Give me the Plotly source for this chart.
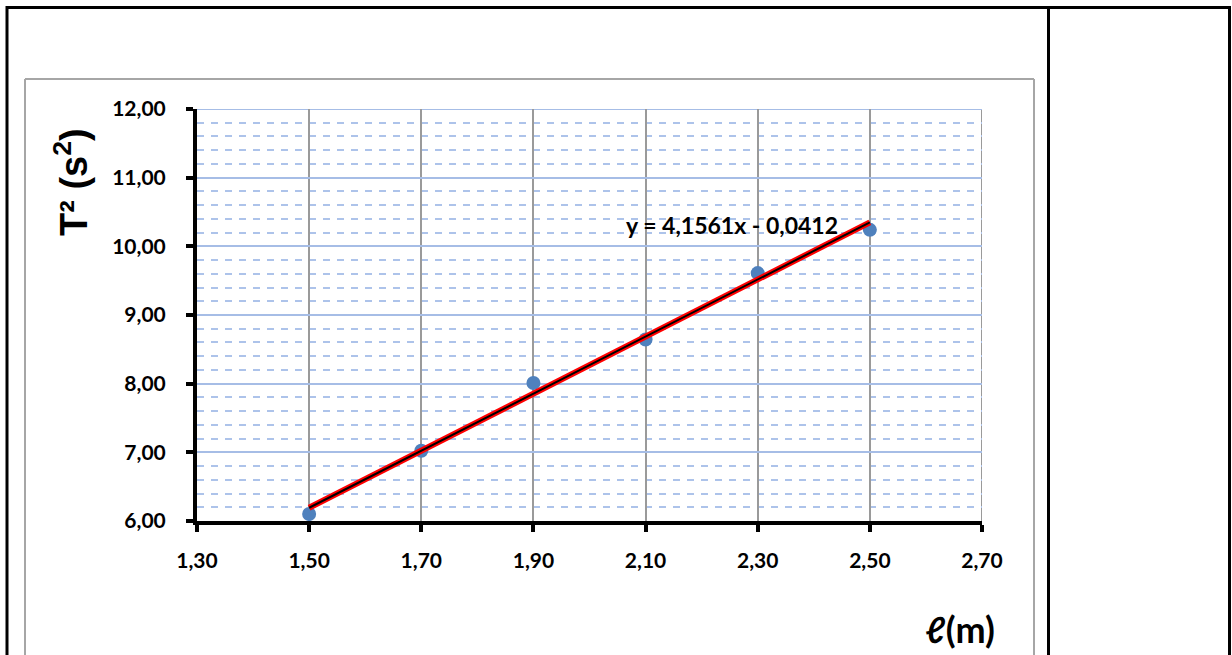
import numpy as np
import plotly.graph_objects as go

# Data
length_m = [1.50, 1.70, 1.90, 2.10, 2.30, 2.50]
period_sq = [6.1009, 7.0225, 8.0089, 8.6436, 9.61, 10.24]
x_ticks = [1.30, 1.50, 1.70, 1.90, 2.10, 2.30, 2.50, 2.70]
y_ticks = [6, 7, 8, 9, 10, 11, 12]
equation_text = "y = 4,1561x - 0,0412"
y_title = "T² (s<sup>2</sup>)"
x_title = "ℓ(m)"

W, H = 1232, 655

def px(x):
    return x / W

def py(y):
    return 1 - y / H

slope, intercept = np.polyfit(length_m, period_sq, 1)
fit_x = [min(length_m), max(length_m)]
fit_y = [slope * v + intercept for v in fit_x]

fig = go.Figure()
fig.add_trace(go.Scatter(
    x=length_m, y=period_sq, mode="markers",
    marker=dict(color="#4f81bd", size=14, line=dict(width=0)),
    hoverinfo="skip", showlegend=False,
))
fig.add_trace(go.Scatter(
    x=fit_x, y=fit_y, mode="lines",
    line=dict(color="#ff0000", width=6), showlegend=False, hoverinfo="skip",
))
fig.add_trace(go.Scatter(
    x=fit_x, y=fit_y, mode="lines",
    line=dict(color="#000000", width=2), showlegend=False, hoverinfo="skip",
))

FONT = "Lato, Carlito, Calibri, sans-serif"
tick_font = dict(family=FONT, size=21, color="#000000", weight="bold")

fig.update_layout(
    template="none",
    width=W, height=H, autosize=False,
    margin=dict(l=0, r=0, t=0, b=0, pad=0, autoexpand=False),
    paper_bgcolor="white", plot_bgcolor="white",
    separators=", ",
    xaxis=dict(
        domain=[px(197), px(982)], automargin=False,
        range=[1.3, 2.7], tickvals=x_ticks, tickformat=".2f",
        showline=True, linecolor="black", linewidth=4,
        ticks="outside", ticklen=7, tickwidth=4, tickcolor="black",
        showgrid=True, gridcolor="#9a9a9a", gridwidth=2,
        zeroline=False, tickfont=tick_font, ticklabelstandoff=11,
    ),
    yaxis=dict(
        domain=[py(521), py(109)], automargin=False,
        range=[6, 12], tickvals=y_ticks, tickformat=".2f",
        showline=True, linecolor="black", linewidth=4,
        ticks="outside", ticklen=7, tickwidth=4, tickcolor="black",
        showgrid=True, gridcolor="#a6bde6", gridwidth=2,
        minor=dict(dtick=0.2, showgrid=True, gridcolor="#adc3ea", gridwidth=2,
                   griddash="7px,7px", ticks=""),
        zeroline=False, tickfont=tick_font, ticklabelstandoff=16,
    ),
    annotations=[
        dict(x=2.255, y=10.31, xref="x", yref="y", text=equation_text, showarrow=False,
             font=dict(family=FONT, size=23, color="black", weight="bold"),
             xanchor="center", yanchor="middle"),
        dict(x=px(71), y=py(182), xref="paper", yref="paper", text=y_title, showarrow=False,
             textangle=-90, font=dict(family="Liberation Sans, Arial, sans-serif", size=38, color="black", weight="bold"),
             xanchor="center", yanchor="middle"),
        dict(x=px(960), y=py(629), xref="paper", yref="paper", text=x_title, showarrow=False,
             font=dict(family=FONT, size=36, color="black", weight="bold"),
             xanchor="center", yanchor="middle"),
    ],
    shapes=[
        # edge gridlines at range ends
        dict(type="line", xref="x", yref="y", x0=2.7, x1=2.7, y0=6, y1=12, layer="below",
             line=dict(color="#9a9a9a", width=2)),
        dict(type="line", xref="x", yref="y", x0=1.3, x1=2.7, y0=12, y1=12, layer="below",
             line=dict(color="#a6bde6", width=2)),
        # chart area border (gray)
        dict(type="line", xref="paper", yref="paper", x0=px(25), x1=px(1034), y0=py(79), y1=py(79),
             line=dict(color="#a6a6a6", width=2)),
        dict(type="line", xref="paper", yref="paper", x0=px(25), x1=px(25), y0=py(79), y1=0,
             line=dict(color="#a6a6a6", width=2)),
        dict(type="line", xref="paper", yref="paper", x0=px(1034), x1=px(1034), y0=py(79), y1=0,
             line=dict(color="#a6a6a6", width=2)),
        # table borders (black)
        dict(type="line", xref="paper", yref="paper", x0=px(6), x1=px(1231), y0=py(7.5), y1=py(7.5),
             line=dict(color="black", width=3)),
        dict(type="line", xref="paper", yref="paper", x0=px(7), x1=px(7), y0=py(6), y1=0,
             line=dict(color="black", width=3)),
        dict(type="line", xref="paper", yref="paper", x0=px(1048.5), x1=px(1048.5), y0=py(6), y1=0,
             line=dict(color="black", width=3)),
        dict(type="line", xref="paper", yref="paper", x0=px(1229.5), x1=px(1229.5), y0=py(6), y1=0,
             line=dict(color="black", width=3)),
    ],
)

fig.write_html(
    "out.html",
    config={"displayModeBar": False},
    post_script="document.body.style.margin='0';document.body.style.overflow='hidden';",
)
